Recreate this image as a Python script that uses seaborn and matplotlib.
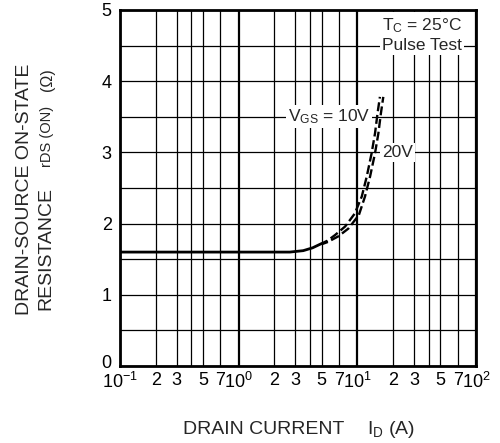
import numpy as np
import pandas as pd
import seaborn as sns
import matplotlib
matplotlib.use('Agg')
import matplotlib.pyplot as plt
import matplotlib.transforms as mtransforms
from matplotlib.ticker import FixedLocator, FixedFormatter, NullFormatter

# data
shared_id = [0.1, 1.0, 2.7, 3.5, 4.2, 5.0]
shared_r = [1.60, 1.60, 1.60, 1.62, 1.66, 1.72]
vgs10_id = [5.0, 5.6, 6.5, 7.9, 9.5, 10.9, 12.0, 13.2, 14.1, 14.8, 15.5]
vgs10_r = [1.72, 1.76, 1.84, 1.96, 2.14, 2.38, 2.66, 2.99, 3.27, 3.55, 3.78]
vgs20_id = [5.0, 5.6, 6.9, 8.4, 10.3, 11.6, 12.8, 14.1, 15.05, 15.8, 16.55]
vgs20_r = [1.71, 1.74, 1.82, 1.93, 2.12, 2.38, 2.66, 2.99, 3.27, 3.55, 3.78]

x_major = [0.1, 1, 10, 100]
x_major_labels = [r'$\mathregular{10^{-1}}$', r'$\mathregular{10^{0}}$',
                  r'$\mathregular{10^{1}}$', r'$\mathregular{10^{2}}$']
x_minor_mult = [2, 3, 4, 5, 7]
x_minor_labels = ['2', '3', '', '5', '7']
y_ticks = [0, 1, 2, 3, 4, 5]

sns.set_theme(style='white')
plt.rcParams['font.family'] = ['Liberation Sans', 'DejaVu Sans']
plt.rcParams['mathtext.fontset'] = 'custom'
plt.rcParams['mathtext.rm'] = 'Liberation Sans'
plt.rcParams['mathtext.it'] = 'Liberation Sans:italic'
plt.rcParams['mathtext.bf'] = 'Liberation Sans:bold'

W, H = 500, 443
fig = plt.figure(figsize=(W / 100, H / 100), dpi=100)
ax = fig.add_axes([120 / W, 1 - 366 / H, 356 / W, 356 / H])

shared = pd.DataFrame({'id': shared_id, 'r': shared_r})
c10 = pd.DataFrame({'id': vgs10_id, 'r': vgs10_r})
c20 = pd.DataFrame({'id': vgs20_id, 'r': vgs20_r})

sns.lineplot(data=shared, x='id', y='r', ax=ax, color='black', lw=2.0,
             estimator=None, sort=False, zorder=5)
for df in (c10, c20):
    sns.lineplot(data=df, x='id', y='r', ax=ax, color='black', lw=1.7,
                 estimator=None, sort=False, zorder=5, dashes=False,
                 linestyle=(1.0, (3.8, 1.6)))

ax.set_xscale('log')
ax.set_xlim(0.1, 100)
ax.set_ylim(0, 5)

minor_pos = [m * d for d in [0.1, 1, 10] for m in x_minor_mult]
minor_lab = [lab for d in [0.1, 1, 10] for lab in x_minor_labels]
ax.xaxis.set_major_locator(FixedLocator(x_major))
ax.xaxis.set_major_formatter(FixedFormatter(x_major_labels))
ax.xaxis.set_minor_locator(FixedLocator(minor_pos))
ax.xaxis.set_minor_formatter(FixedFormatter(minor_lab))
ax.set_yticks(y_ticks)
ax.set_yticks(np.arange(0.5, 5, 1.0), minor=True)
ax.yaxis.set_minor_formatter(NullFormatter())

ax.tick_params(axis='both', which='both', length=0, labelsize=13, colors='black')
ax.tick_params(axis='x', which='both', pad=4)
ax.tick_params(axis='y', which='both', pad=6)

# lift the "0" a little, as in the original
zero_lab = ax.yaxis.get_major_ticks()[0].label1
zero_lab.set_transform(zero_lab.get_transform() +
                       mtransforms.ScaledTranslation(0, 4 / 100, fig.dpi_scale_trans))

ax.grid(True, axis='x', which='major', color='black', lw=1.6)
ax.grid(True, axis='x', which='minor', color='black', lw=0.9)
ax.grid(True, axis='y', which='both', color='black', lw=0.9)
ax.set_axisbelow(True)
for s in ax.spines.values():
    s.set_color('black')
    s.set_linewidth(2.0)
ax.set_xlabel('')
ax.set_ylabel('')

box = dict(facecolor='white', edgecolor='none', pad=1.5)
ax.text(16.1, 4.66, 'T$_\\mathregular{C}$ = 25°C\nPulse Test', fontsize=12.5,
        ha='left', va='center', linespacing=1.25, bbox=box, zorder=6)
ax.text(2.6, 3.5, 'V$_\\mathregular{GS}$ = 10V', fontsize=12.5,
        ha='left', va='center', bbox=box, zorder=6)
ax.text(16.3, 3.0, '20V', fontsize=12.5, ha='left', va='center', bbox=box, zorder=6)

# axis titles
fig.text(25 / W, 1 - 189 / H, 'DRAIN-SOURCE ON-STATE', fontsize=14,
         rotation=90, ha='center', va='center')
fig.text(45.5 / W, 1 - 310 / H, 'RESISTANCE', fontsize=14,
         rotation=90, ha='center', va='bottom')
fig.text(47 / W, 1 - 167 / H, 'rDS (ON)', fontsize=10.5,
         rotation=90, ha='center', va='bottom')
fig.text(47 / W, 1 - 91 / H, '(Ω)', fontsize=11.5,
         rotation=90, ha='center', va='bottom')
fig.text(183 / W, 1 - 429 / H, 'DRAIN CURRENT', fontsize=14,
         ha='left', va='center')
fig.text(367 / W, 1 - 429 / H, 'I$_\\mathregular{D}$ (A)', fontsize=14,
         ha='left', va='center')

fig.savefig('out.png', dpi=100)
